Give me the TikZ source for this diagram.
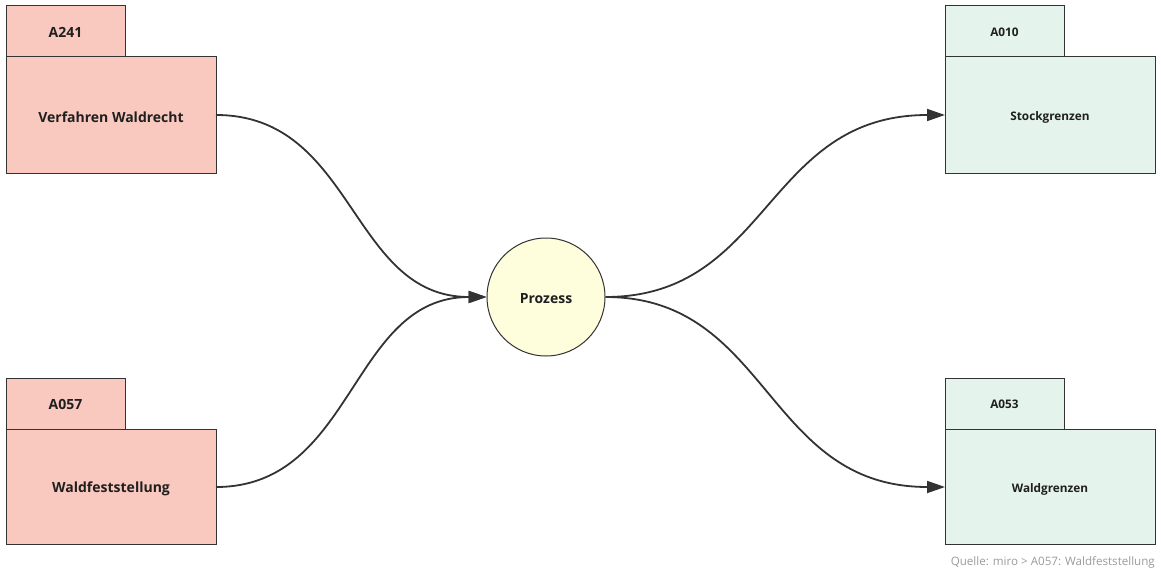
\documentclass[tikz,border=0pt]{standalone}
\usepackage{fontspec}
\setmainfont{Open Sans}
\usetikzlibrary{arrows.meta}
\definecolor{redfill}{HTML}{F9C8BE}
\definecolor{greenfill}{HTML}{E4F4EC}
\definecolor{yellowfill}{HTML}{FEFDDC}
\definecolor{edge}{HTML}{333333}
\definecolor{txt}{HTML}{1F1F1F}
\definecolor{capt}{HTML}{9A9A9A}
\tikzset{
  redbox/.style={draw=edge, line width=1pt, fill=redfill, text=txt, font=\bfseries\fontsize{14}{16}\selectfont},
  greenbox/.style={draw=edge, line width=1pt, fill=greenfill, text=txt, font=\bfseries\fontsize{11.8}{14}\selectfont},
  flow/.style={draw=edge, line width=1.8pt, -{Triangle[length=18pt,width=12pt]}},
}
\begin{document}
\begin{tikzpicture}[x=1pt,y=-1pt]
\useasboundingbox (0,0) rectangle (1161,575);
% left top
\draw[redbox] (6,6) rectangle (125,57);
\node[redbox,draw=none,fill=none] (t1) at (65.5,32.5) {A241};
\draw[redbox] (6,57) rectangle (216,173);
\node[redbox,draw=none,fill=none] (b1) at (111,117) {Verfahren Waldrecht};
\coordinate (o1) at (216,115);
% left bottom
\draw[redbox] (6,378) rectangle (125,429);
\node[redbox,draw=none,fill=none] (t2) at (65.5,404.5) {A057};
\draw[redbox] (6,429) rectangle (216,544);
\node[redbox,draw=none,fill=none] (b2) at (111,489) {Waldfeststellung};
\coordinate (o2) at (216,487);
% right top
\draw[greenbox] (945,6) rectangle (1064,57);
\node[greenbox,draw=none,fill=none] (t3) at (1004.5,32.5) {A010};
\draw[greenbox] (945,57) rectangle (1155,173);
\node[greenbox,draw=none,fill=none] (b3) at (1050,117) {Stockgrenzen};
\coordinate (i3) at (945,115);
% right bottom
\draw[greenbox] (945,378) rectangle (1064,429);
\node[greenbox,draw=none,fill=none] (t4) at (1004.5,404.5) {A053};
\draw[greenbox] (945,429) rectangle (1155,544);
\node[greenbox,draw=none,fill=none] (b4) at (1050,489) {Waldgrenzen};
\coordinate (i4) at (945,487);
% circle
\node[circle, draw=edge, line width=1pt, fill=yellowfill, minimum size=118pt, inner sep=0pt] (p) at (546,297) {};
\node[text=txt, font=\bfseries\fontsize{14}{16}\selectfont] (pl) at (546,298.5) {Prozess};
% connectors
\draw[flow] (o1) .. controls (355,115) and (350,297) .. (p.west);
\draw[flow] (o2) .. controls (355,487) and (350,297) .. (p.west);
\draw[flow] (p.east) .. controls (770,297) and (765,115) .. (i3);
\draw[flow] (p.east) .. controls (770,297) and (765,487) .. (i4);
% caption
\node[anchor=east, text=capt, font=\fontsize{11.6}{14}\selectfont, inner sep=0pt] (cap) at (1155,562) {Quelle: miro > A057: Waldfeststellung};
\end{tikzpicture}
\end{document}
